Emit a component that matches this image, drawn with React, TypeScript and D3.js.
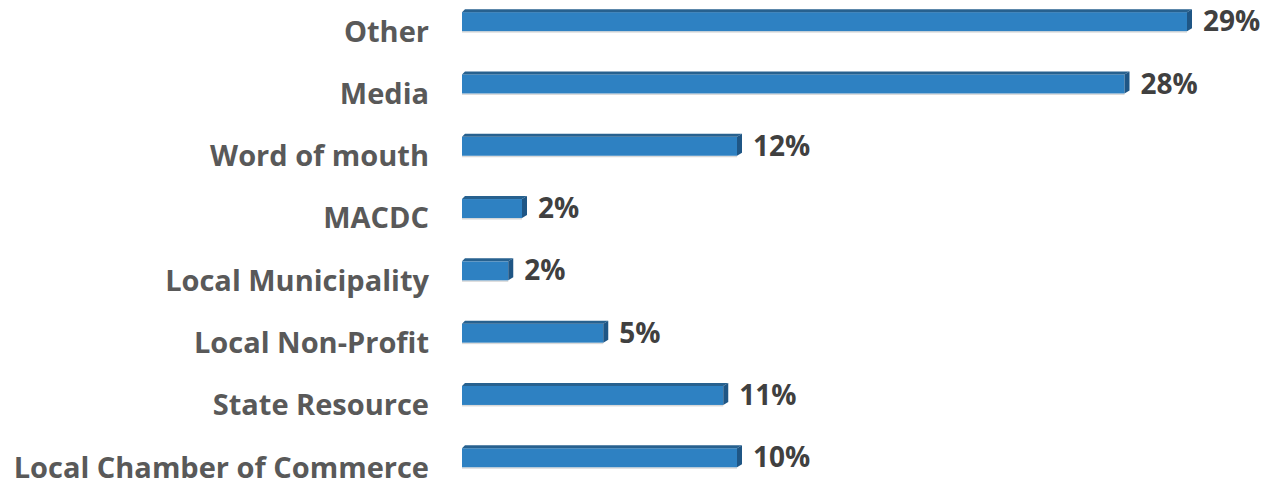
import React from 'react';
import * as d3 from 'd3';

const categories = [
  'Other',
  'Media',
  'Word of mouth',
  'MACDC',
  'Local Municipality',
  'Local Non-Profit',
  'State Resource',
  'Local Chamber of Commerce'
];

// bar lengths (percent)
const shares = [29, 26.5, 11, 2.4, 1.85, 5.65, 10.45, 11];
const pctLabels = ['29%', '28%', '12%', '2%', '2%', '5%', '11%', '10%'];

const W = 1265;
const H = 482;
const depthX = 5;
const depthY = 3;

const colors = {
  front: '#2e81c2',
  top: '#27618f',
  side: '#1f5685',
  shadow: '#d9d9d9',
  category: '#595959',
  value: '#404040'
};

const font = '"Open Sans", "DejaVu Sans", sans-serif';

const App: React.FC = () => {
  const x = d3.scaleLinear().domain([0, 29]).range([462, 1187]);
  const y = d3
    .scaleBand<string>()
    .domain(categories)
    .range([-11, 487.4])
    .paddingInner(0.647)
    .paddingOuter(0.3235);

  const bw = y.bandwidth();

  return (
    <svg
      width={W}
      height={H}
      style={{ position: 'absolute', left: 0, top: 0, background: '#fff' }}
    >
      {categories.map((c, i) => {
        const x0 = x(0);
        const x1 = x(shares[i]);
        const y0 = y(c)!;
        const y1 = y0 + bw;
        const topFace = [
          [x0, y0 + depthY],
          [x0 + depthY, y0],
          [x1 + depthX, y0],
          [x1, y0 + depthY]
        ];
        const sideFace = [
          [x1, y0 + depthY],
          [x1 + depthX, y0],
          [x1 + depthX, y1 - depthY],
          [x1, y1]
        ];
        const pts = (p: number[][]) => p.map(d => d.join(',')).join(' ');
        return (
          <g key={c}>
            <rect x={x0} y={y1} width={x1 - x0} height={1.5} fill={colors.shadow} />
            <rect x={x0} y={y0 + depthY} width={x1 - x0} height={bw - depthY} fill={colors.front} />
            <polygon points={pts(topFace)} fill={colors.top} />
            <polygon points={pts(sideFace)} fill={colors.side} />
            <text
              x={429}
              y={y0 + bw / 2 + 11}
              dy="0.36em"
              textAnchor="end"
              fontFamily={font}
              fontWeight={700}
              fontSize={29}
              fill={colors.category}
            >
              {c}
            </text>
            <text
              x={x1 + depthX + 11}
              y={y0 + bw / 2 + 1}
              dy="0.36em"
              fontFamily={font}
              fontWeight={700}
              fontSize={28}
              fill={colors.value}
            >
              {pctLabels[i]}
            </text>
          </g>
        );
      })}
    </svg>
  );
};

export default App;
